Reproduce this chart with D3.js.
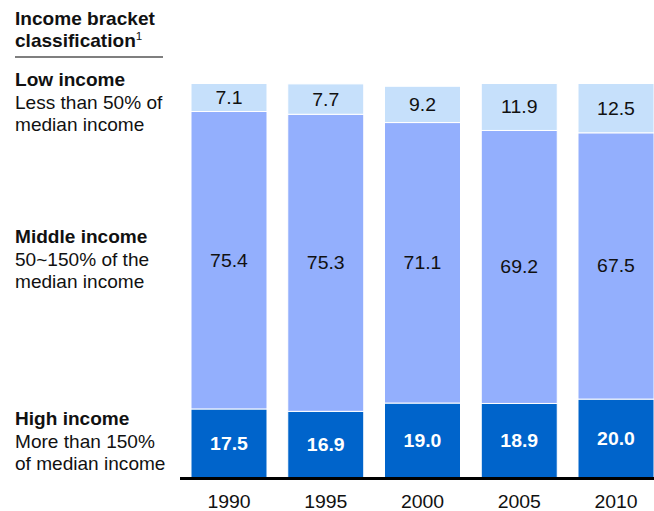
<!DOCTYPE html>
<html>
<head>
<meta charset="utf-8">
<script src="https://cdn.jsdelivr.net/npm/d3@7"></script>
<style>
  html, body { margin: 0; padding: 0; background: #fff; }
  svg { display: block; font-family: "Liberation Sans", Arial, sans-serif; }
</style>
</head>
<body>
<svg id="chart" width="654" height="511"></svg>
<script>
// Share of households by income bracket (%), stacked from the bottom up
const years = ["1990", "1995", "2000", "2005", "2010"];
const highIncome = [17.5, 16.9, 19.0, 18.9, 20.0];
const middleIncome = [75.4, 75.3, 71.1, 69.2, 67.5];
const lowIncome = [7.1, 7.7, 9.2, 11.9, 12.5];

const seriesKeys = ["high", "middle", "low"];
const seriesColors = { high: "#0064cb", middle: "#93affd", low: "#c6e0fb" };
const labelStyle = {
  high: { fill: "#ffffff", weight: "bold" },
  middle: { fill: "#111111", weight: "normal" },
  low: { fill: "#111111", weight: "normal" }
};

// Left-hand legend blocks: bold heading followed by description lines
const legendBlocks = [
  { lines: ["Low income", "Less than 50% of", "median income"], y: 86 },
  { lines: ["Middle income", "50~150% of the", "median income"], y: 243 },
  { lines: ["High income", "More than 150%", "of median income"], y: 425 }
];

const WIDE = 1.08;        // slightly widened lettering for values and years
const WIDE_LEGEND = 1.06; // and for the left-hand legend

const rows = years.map((yr, i) => ({
  year: yr, high: highIncome[i], middle: middleIncome[i], low: lowIncome[i]
}));

const svg = d3.select("#chart");

const x = d3.scaleBand()
  .domain(years)
  .range([191, 654])
  .paddingInner(0.2145)
  .paddingOuter(0)
  .align(0);

const y = d3.scaleLinear().domain([0, 100]).range([478, 83.5]);

const stacked = d3.stack().keys(seriesKeys)(rows);

// Stacked bars
const layers = svg.append("g").selectAll("g")
  .data(stacked)
  .join("g")
  .attr("fill", d => seriesColors[d.key]);

layers.selectAll("rect")
  .data(d => d)
  .join("rect")
  .attr("x", d => x(d.data.year))
  .attr("width", x.bandwidth())
  .attr("y", d => y(d[1]))
  .attr("height", d => y(d[0]) - y(d[1]))
  .attr("stroke", "#ffffff")
  .attr("stroke-width", 1);

// Value labels centred in each segment
layers.each(function (layer) {
  const st = labelStyle[layer.key];
  d3.select(this).selectAll("text")
    .data(layer)
    .join("text")
    .attr("transform", d =>
      `translate(${x(d.data.year) + x.bandwidth() / 2},${(y(d[0]) + y(d[1])) / 2}) scale(${WIDE},1)`)
    .attr("dy", "0.36em")
    .attr("text-anchor", "middle")
    .attr("font-size", 18)
    .attr("font-weight", st.weight)
    .attr("fill", st.fill)
    .text(d => (d[1] - d[0]).toFixed(1));
});

// Baseline axis with year labels
const xAxis = svg.append("g").attr("transform", "translate(0,478)")
  .call(d3.axisBottom(x).tickSize(0).tickPadding(17));
xAxis.select(".domain").remove();
xAxis.selectAll("text")
  .attr("font-size", 18)
  .attr("font-family", "Liberation Sans, Arial, sans-serif")
  .attr("fill", "#111")
  .attr("transform", `scale(${WIDE},1)`);

svg.append("line")
  .attr("x1", 180).attr("x2", 654)
  .attr("y1", 478.5).attr("y2", 478.5)
  .attr("stroke", "#000").attr("stroke-width", 3);

// Legend title with footnote marker and rule
const title = svg.append("g").attr("fill", "#111").attr("font-weight", "bold").attr("font-size", 18);
title.append("text").attr("transform", `translate(15,25) scale(${WIDE_LEGEND},1)`).text("Income bracket");
const t2 = title.append("text").attr("transform", `translate(15,46.5) scale(${WIDE_LEGEND},1)`);
t2.append("tspan").text("classification");
t2.append("tspan").attr("font-size", 11).attr("font-weight", "normal").attr("dy", -7).text("1");

svg.append("line")
  .attr("x1", 15).attr("x2", 163)
  .attr("y1", 57).attr("y2", 57)
  .attr("stroke", "#555").attr("stroke-width", 1.5);

// Bracket descriptions
legendBlocks.forEach(b => {
  const g = svg.append("g").attr("fill", "#111").attr("font-size", 18);
  b.lines.forEach((ln, i) => {
    g.append("text")
      .attr("transform", `translate(15,${b.y + i * 22.6}) scale(${WIDE_LEGEND},1)`)
      .attr("font-weight", i === 0 ? "bold" : "normal")
      .text(ln);
  });
});
</script>
</body>
</html>
